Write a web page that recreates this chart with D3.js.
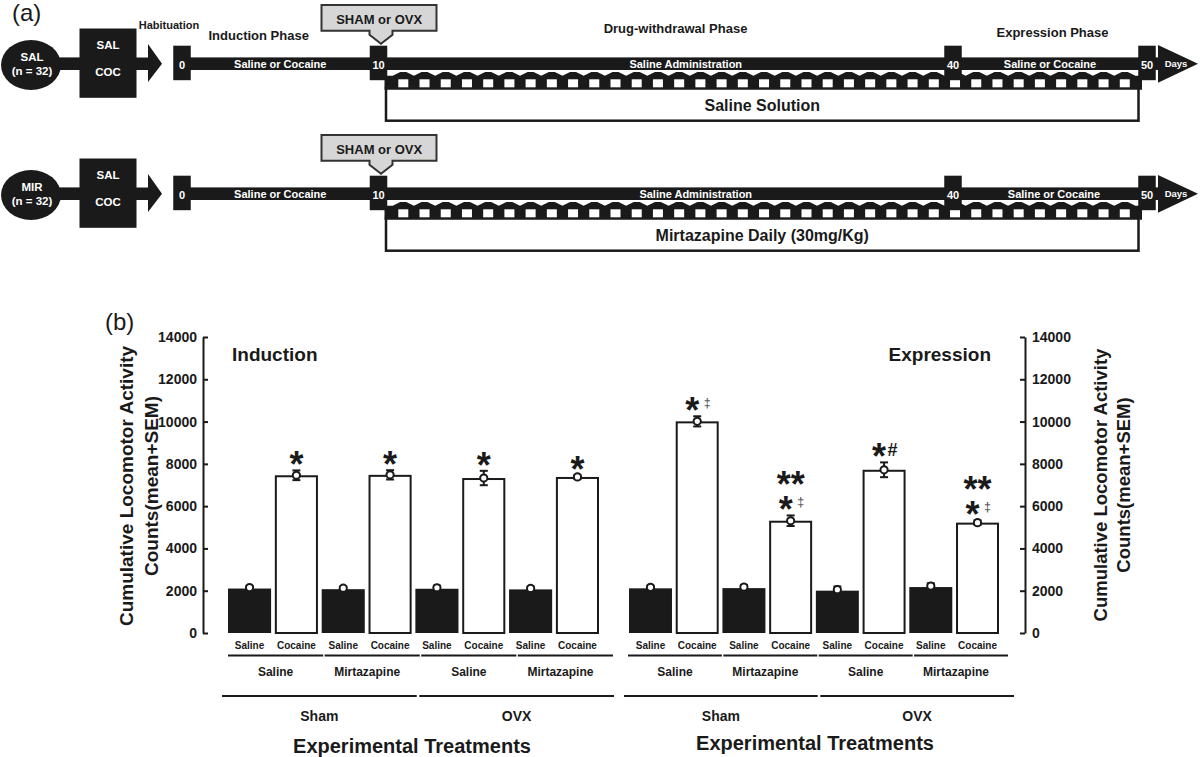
<!DOCTYPE html>
<html><head><meta charset="utf-8">
<script src="https://cdn.jsdelivr.net/npm/d3@7"></script>
<style>
body{margin:0;background:#fff;}
svg{display:block;}
</style></head><body>
<svg id="chart" width="1200" height="757"></svg>
<script>
// ================= DATA =================
// Panel (a) – timeline
const timelineDays = [0, 10, 40, 50];
const timelineRows = ["SAL", "MIR"];
const rowCounts = ["(n = 32)", "(n = 32)"];
const pretreatLabels = ["SAL", "COC"];
const habituationLabel = "Habituation";
const phaseLabels = ["Induction Phase", "Drug-withdrawal Phase", "Expression Phase"];
const barSegmentLabels = ["Saline or Cocaine", "Saline Administration", "Saline or Cocaine"];
const dailyTreatments = ["Saline Solution", "Mirtazapine Daily (30mg/Kg)"];
const surgeryLabel = "SHAM or OVX";
const daysLabel = "Days";

// Panel (b) – bar chart
const barCategories = ["Saline", "Cocaine", "Saline", "Cocaine", "Saline", "Cocaine", "Saline", "Cocaine"];
const treatmentGroups = ["Saline", "Mirtazapine", "Saline", "Mirtazapine"];
const surgeryGroups = ["Sham", "OVX"];
const inductionMeans = [2150, 7460, 2120, 7480, 2140, 7330, 2110, 7380];
const inductionSEM   = [80, 230, 90, 220, 100, 340, 90, 100];
const inductionMarks = ["", "*", "", "*", "", "*", "", "*"];
const expressionMeans = [2160, 10010, 2170, 5310, 2050, 7720, 2220, 5220];
const expressionSEM   = [80, 240, 100, 250, 150, 350, 130, 110];
const expressionMarks = ["", "*‡", "", "**\n*‡", "", "*#", "", "**\n*‡"];
const yTicks = [0, 2000, 4000, 6000, 8000, 10000, 12000, 14000];
const yTitle = ["Cumulative Locomotor Activity", "Counts(mean+SEM)"];
const panelTitles = ["Induction", "Expression"];
const xTitle = "Experimental Treatments";

// ================= DRAW =================
const INK = "#1a1a1a";
const svg = d3.select("#chart")
  .attr("font-family", "'Liberation Sans', Arial, Helvetica, sans-serif");

svg.append("text").attr("x", 12).attr("y", 21).attr("font-size", 24).attr("fill", INK).text("(a)");
svg.append("text").attr("x", 105).attr("y", 330).attr("font-size", 24).attr("fill", INK).text("(b)");

// ---------- Timeline ----------
const dayX = d3.scaleLinear().domain(timelineDays).range([182, 378.5, 953, 1147]);
const rowY = d3.scaleOrdinal().domain(timelineRows).range([63.7, 193.7]);

timelineRows.forEach((row, ri) => {
  const cy = rowY(row);
  const g = svg.append("g");

  // daily treatment box (under the band)
  const bx0 = dayX(10) + 7.5, bx1 = dayX(50) - 8.5;
  g.append("rect").attr("x", bx0).attr("y", cy + 24).attr("width", bx1 - bx0).attr("height", 33)
    .attr("fill", "#fff").attr("stroke", INK).attr("stroke-width", 2.5);
  g.append("text").attr("x", (bx0 + bx1) / 2).attr("y", cy + 47.5).attr("text-anchor", "middle")
    .attr("font-size", 16).attr("font-weight", "bold").attr("fill", INK).text(dailyTreatments[ri]);

  // injection band with zigzag top and white squares
  const px0 = dayX(10) + 6, px1 = dayX(50) - 5;
  const sqStart = 398.3, sqStep = 21.22;
  const sqXs = d3.range(sqStart, px1 - 10, sqStep);
  const pts = [[px0, cy + 12]];
  sqXs.forEach(x => {
    pts.push([x - 5.6, cy + 12]);
    pts.push([x + 2, cy + 8.3]);
    pts.push([x + 8, cy + 8.3]);
    pts.push([x + 15.6, cy + 12]);
  });
  pts.push([px1, cy + 12], [px1, cy + 26], [px0, cy + 26]);
  g.append("polygon").attr("points", pts.map(p => p.join(",")).join(" ")).attr("fill", INK);
  g.selectAll(".sq").data(sqXs).join("rect")
    .attr("x", d => d).attr("y", cy + 15.6).attr("width", 10).attr("height", 8).attr("fill", "#fff");

  // circle (group)
  g.append("rect").attr("x", 50).attr("y", cy - 6.3).attr("width", 40).attr("height", 12.6).attr("fill", INK);
  g.append("ellipse").attr("cx", 31).attr("cy", cy + 1.3).attr("rx", 30).attr("ry", 25).attr("fill", INK);
  g.append("text").attr("x", 32).attr("y", cy - 6.7).attr("dy", "0.35em").attr("text-anchor", "middle")
    .attr("font-size", 11.5).attr("font-weight", "bold").attr("fill", "#fff").text(row);
  g.append("text").attr("x", 32).attr("y", cy + 7.5).attr("dy", "0.35em").attr("text-anchor", "middle")
    .attr("font-size", 11.5).attr("font-weight", "bold").attr("fill", "#fff").text(rowCounts[ri]);

  // pretreatment square
  g.append("rect").attr("x", 79.5).attr("y", cy - 35.2).attr("width", 57).attr("height", 69.3).attr("fill", INK);
  pretreatLabels.forEach((t, k) => {
    g.append("text").attr("x", 108).attr("y", cy - 18.7 + k * 26.7).attr("dy", "0.35em").attr("text-anchor", "middle")
      .attr("font-size", 11.5).attr("font-weight", "bold").attr("fill", "#fff").text(t);
  });

  // habituation arrow
  g.append("polygon").attr("points", [
    [136, cy - 6.3], [148, cy - 6.3], [148, cy - 19.7], [162, cy], [148, cy + 18.3], [148, cy + 6.3], [136, cy + 6.3]
  ].map(p => p.join(",")).join(" ")).attr("fill", INK);

  // main bar
  g.append("rect").attr("x", dayX(0)).attr("y", cy - 6.3).attr("width", 1160 - dayX(0)).attr("height", 12.6).attr("fill", INK);
  // arrow head
  g.append("polygon").attr("points", [[1158, cy - 18.7], [1198, cy], [1158, cy + 19]].map(p => p.join(",")).join(" "))
    .attr("fill", INK);
  g.append("text").attr("x", 1176).attr("y", cy).attr("dy", "0.35em").attr("text-anchor", "middle")
    .attr("font-size", 9.5).attr("font-weight", "bold").attr("fill", "#fff").text(daysLabel);

  // day boxes
  g.selectAll(".day").data(timelineDays).join("rect")
    .attr("x", d => dayX(d) - 8.75).attr("y", cy - 18).attr("width", 17.5).attr("height", 34.5).attr("fill", INK);
  g.selectAll(".dayl").data(timelineDays).join("text")
    .attr("x", d => dayX(d)).attr("y", cy + 1).attr("dy", "0.35em").attr("text-anchor", "middle")
    .attr("font-size", 11).attr("font-weight", "bold").attr("fill", "#fff").text(d => d);

  // segment labels on the bar
  const segMids = [(dayX(0) + dayX(10)) / 2, (dayX(10) + dayX(40)) / 2 + 20 + ri * 10, (dayX(40) + dayX(50)) / 2 + ri * 4];
  barSegmentLabels.forEach((t, k) => {
    g.append("text").attr("x", segMids[k]).attr("y", cy).attr("dy", "0.35em").attr("text-anchor", "middle")
      .attr("font-size", 11).attr("font-weight", "bold").attr("fill", "#fff").text(t);
  });

  // surgery callout
  const sx = dayX(10);
  g.append("polygon").attr("points", [
    [sx - 57, cy - 58.7], [sx + 58, cy - 58.7], [sx + 58, cy - 33], [sx + 14, cy - 33], [sx + 14, cy - 29],
    [sx + 2.5, cy - 20], [sx - 9, cy - 29], [sx - 9, cy - 33], [sx - 57, cy - 33]
  ].map(p => p.join(",")).join(" ")).attr("fill", "#d6d6d6").attr("stroke", "#333").attr("stroke-width", 2);
  g.append("text").attr("x", sx + 0.7).attr("y", cy - 39.7).attr("text-anchor", "middle")
    .attr("font-size", 13).attr("font-weight", "bold").attr("fill", INK).text(surgeryLabel);

  if (ri === 0) {
    const lab = (x, y, t, fs) => g.append("text").attr("x", x).attr("y", y).attr("text-anchor", "middle")
      .attr("font-size", fs).attr("font-weight", "bold").attr("fill", INK).text(t);
    lab(169, 29, habituationLabel, 11);
    lab(dayX(0) + 76.7, 39.5, phaseLabels[0], 13);
    lab(dayX(10) + 297, 33, phaseLabels[1], 13);
    lab(dayX(40) + 99.5, 37, phaseLabels[2], 13);
  }
});

// ---------- Bar chart ----------
const y = d3.scaleLinear().domain([0, 14000]).range([633, 337]);
const STAR = 36;

function drawMark(g, cx, top, mk) {
  // one text element per annotation; each glyph is a tspan placed absolutely
  const t = g.append("text").attr("fill", INK).attr("font-weight", "bold");
  const lines = mk.split("\n").reverse();
  lines.forEach((ln, k) => {
    const c = top - 13 - k * 25;
    if (ln.length === 1 || ln === "**") {
      t.append("tspan").attr("x", cx).attr("y", c + 0.555 * STAR).attr("text-anchor", "middle")
        .attr("font-size", STAR).text(ln);
    } else {
      t.append("tspan").attr("x", cx - 5).attr("y", c + 0.555 * STAR).attr("text-anchor", "middle")
        .attr("font-size", STAR).text(ln[0]);
      if (ln[1] === "‡") {
        t.append("tspan").attr("x", cx + 10).attr("y", c + 3.8).attr("text-anchor", "middle")
          .attr("font-size", 12.5).attr("font-weight", "normal").attr("fill", "#444").text(ln[1]);
      } else {
        t.append("tspan").attr("x", cx + 8.5).attr("y", c + 6.2).attr("text-anchor", "middle")
          .attr("font-size", 18).text(ln[1]);
      }
    }
  });
}

function drawPanel(p) {
  const g = svg.append("g");
  const x = d3.scaleBand().domain(d3.range(barCategories.length)).range(p.range).paddingInner(0.08);
  const bw = x.bandwidth();
  // bars
  g.selectAll(".bar").data(p.means).join("rect")
    .attr("x", (d, i) => x(i) + (i % 2 ? 1 : 0))
    .attr("y", d => y(d) + 1)
    .attr("width", (d, i) => bw - (i % 2 ? 2 : 0))
    .attr("height", d => y(0) - y(d) - 1)
    .attr("fill", (d, i) => i % 2 ? "#fff" : INK)
    .attr("stroke", INK).attr("stroke-width", (d, i) => i % 2 ? 2 : 0);
  // error bars, mean markers, significance marks
  p.means.forEach((m, i) => {
    const cx = x(i) + bw / 2, s = p.sem[i];
    g.append("line").attr("x1", cx).attr("x2", cx).attr("y1", y(m - s)).attr("y2", y(m + s))
      .attr("stroke", INK).attr("stroke-width", 2);
    [m - s, m + s].forEach(v => g.append("line").attr("x1", cx - 4).attr("x2", cx + 4).attr("y1", y(v)).attr("y2", y(v))
      .attr("stroke", INK).attr("stroke-width", 2));
    g.append("circle").attr("cx", cx).attr("cy", y(m)).attr("r", 3.6)
      .attr("fill", "#fff").attr("stroke", INK).attr("stroke-width", 2);
    if (p.marks[i]) drawMark(g, cx, y(m + s), p.marks[i]);
  });
  // category labels
  g.selectAll(".cat").data(barCategories).join("text")
    .attr("x", (d, i) => x(i) + bw / 2).attr("y", 648.5).attr("text-anchor", "middle")
    .attr("font-size", 10).attr("font-weight", "bold").attr("fill", INK).text(d => d);
  // treatment groups
  const tx = d3.scaleBand().domain(d3.range(treatmentGroups.length)).range(p.tRange).paddingInner(0.015);
  treatmentGroups.forEach((t, k) => {
    g.append("line").attr("x1", tx(k)).attr("x2", tx(k) + tx.bandwidth()).attr("y1", 655.5).attr("y2", 655.5)
      .attr("stroke", INK).attr("stroke-width", 2);
    g.append("text").attr("x", tx(k) + tx.bandwidth() / 2 - (k % 2 ? 5 : 0)).attr("y", 675.5).attr("text-anchor", "middle")
      .attr("font-size", 12).attr("font-weight", "bold").attr("fill", INK).text(t);
  });
  const sxs = d3.scaleBand().domain(d3.range(surgeryGroups.length)).range(p.sRange).paddingInner(0.013);
  surgeryGroups.forEach((t, k) => {
    g.append("line").attr("x1", sxs(k)).attr("x2", sxs(k) + sxs.bandwidth()).attr("y1", 696).attr("y2", 696)
      .attr("stroke", INK).attr("stroke-width", 2);
    g.append("text").attr("x", sxs(k) + sxs.bandwidth() / 2).attr("y", 720.5).attr("text-anchor", "middle")
      .attr("font-size", 14).attr("font-weight", "bold").attr("fill", INK).text(t);
  });
  g.append("text").attr("x", p.titleX).attr("y", p.titleY).attr("text-anchor", "middle")
    .attr("font-size", 20).attr("font-weight", "bold").attr("fill", INK).text(xTitle);
  g.append("text").attr("x", p.panelX).attr("y", 361).attr("text-anchor", p.panelAnchor)
    .attr("font-size", 19).attr("font-weight", "bold").attr("fill", INK).text(p.panelTitle);
}

drawPanel({ range: [228, 599], tRange: [228, 613], sRange: [222, 614], means: inductionMeans, sem: inductionSEM,
  marks: inductionMarks, titleX: 412, titleY: 753, panelX: 232, panelAnchor: "start", panelTitle: panelTitles[0] });
drawPanel({ range: [629, 999], tRange: [628, 1008], sRange: [624, 1014], means: expressionMeans, sem: expressionSEM,
  marks: expressionMarks, titleX: 815, titleY: 750, panelX: 991, panelAnchor: "end", panelTitle: panelTitles[1] });

// axes
function styleAxis(ax) {
  ax.select(".domain").attr("stroke", INK).attr("stroke-width", 2);
  ax.selectAll(".tick line").attr("stroke", INK).attr("stroke-width", 2);
  ax.selectAll(".tick text").attr("font-size", 14).attr("font-weight", "bold").attr("fill", INK)
    .attr("font-family", "'Liberation Sans', Arial, sans-serif");
}
const axL = svg.append("g").attr("transform", "translate(203,0)")
  .call(d3.axisLeft(y).tickValues(yTicks).tickSizeInner(-5).tickSizeOuter(0).tickPadding(6).tickFormat(d3.format("d")));
styleAxis(axL);
const axR = svg.append("g").attr("transform", "translate(1025,0)")
  .call(d3.axisRight(y).tickValues(yTicks).tickSizeInner(-5).tickSizeOuter(0).tickPadding(7).tickFormat(d3.format("d")));
styleAxis(axR);

// y titles
[[133, 158, 486, 19], [1107, 1130, 485, 18.5]].forEach(([x1, x2, cy, fs]) => {
  [x1, x2].forEach((xx, k) => {
    svg.append("text").attr("transform", `translate(${xx},${cy}) rotate(-90)`).attr("text-anchor", "middle")
      .attr("font-size", fs).attr("font-weight", "bold").attr("fill", INK).text(yTitle[k]);
  });
});
</script>
</body></html>
